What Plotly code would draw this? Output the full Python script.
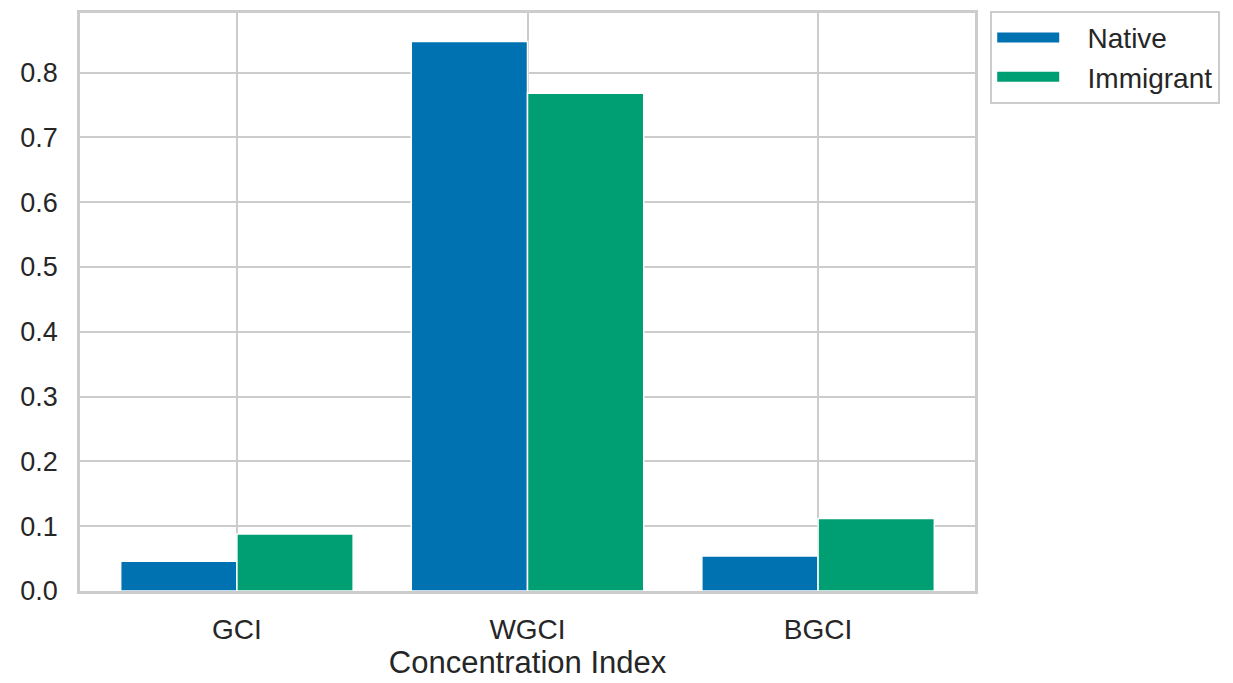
import plotly.graph_objects as go

categories = ["GCI", "WGCI", "BGCI"]
native = [0.046, 0.848, 0.054]
immigrant = [0.088, 0.768, 0.112]
series_names = ["Native", "Immigrant"]

blue = "#0072B2"
green = "#009E73"
grid = "#cccccc"
ink = "#262626"

fig = go.Figure()
for name, vals, col in zip(series_names, [native, immigrant], [blue, green]):
    fig.add_trace(go.Bar(
        x=categories, y=vals, name=name, showlegend=False,
        marker=dict(color=col, line=dict(color="white", width=1.5))
    ))
    # legend-only entry so the swatch is a wide patch like matplotlib's
    fig.add_trace(go.Scatter(
        x=[None], y=[None], name="\u00a0\u00a0\u00a0" + name, mode="lines",
        line=dict(color=col, width=18)
    ))

fig.update_layout(
    width=1233,
    height=683,
    margin=dict(l=72, r=266, t=3, b=100),
    paper_bgcolor="white",
    plot_bgcolor="white",
    font=dict(family="Liberation Sans, Arial, sans-serif", size=29, color=ink),
    barmode="group",
    bargap=0.2,
    bargroupgap=0,
    xaxis=dict(
        range=[-0.54, 2.54],
        showgrid=True, gridcolor=grid, gridwidth=2,
        showline=True, linecolor=grid, linewidth=2.5, mirror=True,
        ticks="", ticklabelstandoff=12,
        tickfont=dict(size=28),
        title=dict(text="Concentration Index", font=dict(size=31), standoff=4),
        zeroline=False,
    ),
    yaxis=dict(
        range=[0, 0.892],
        dtick=0.1, tickformat=".1f",
        showgrid=True, gridcolor=grid, gridwidth=2,
        showline=True, linecolor=grid, linewidth=2.5, mirror=True,
        ticks="", ticklabelstandoff=14,
        tickfont=dict(size=27),
        zeroline=False,
    ),
    legend=dict(
        x=1.017, y=1.004, xanchor="left", yanchor="top",
        bordercolor=grid, borderwidth=2,
        font=dict(size=28),
        itemwidth=62,
        tracegroupgap=4,
    ),
)

fig.write_html("out.html")
